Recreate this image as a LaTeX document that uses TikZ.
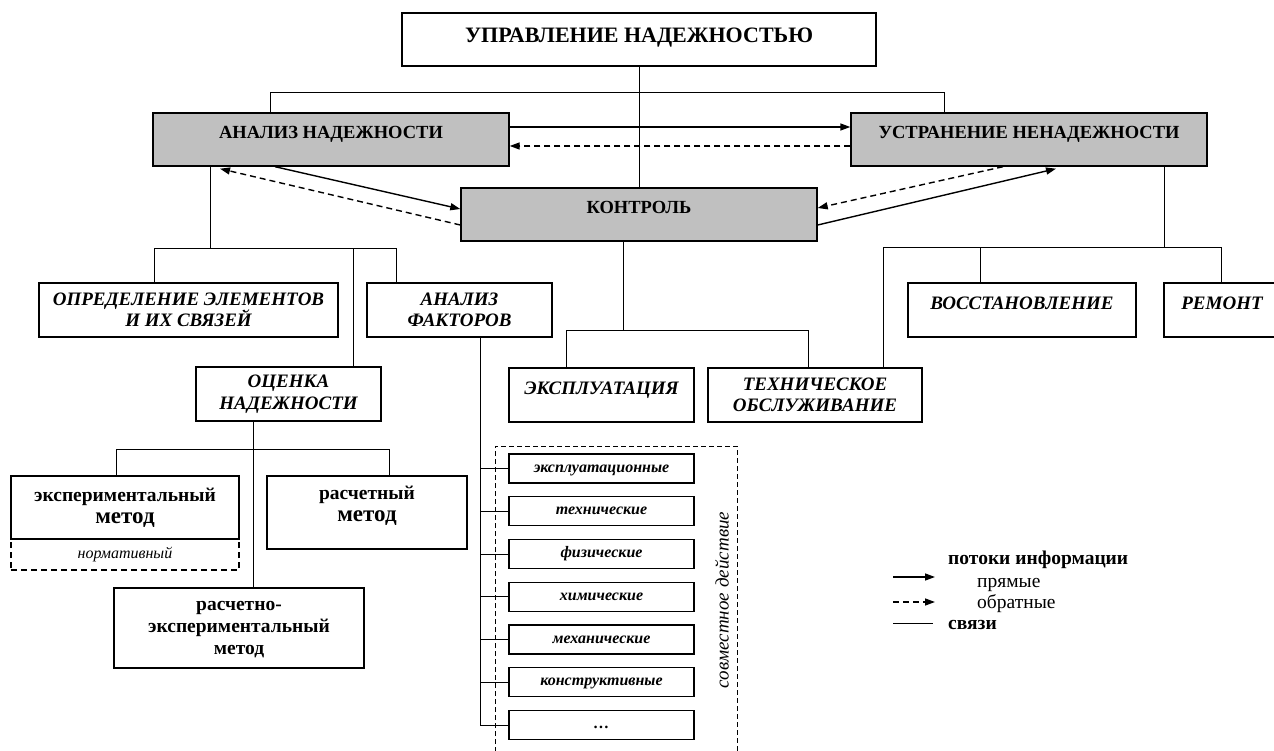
\documentclass[tikz,border=0pt]{standalone}
\usepackage{fontspec}
\setmainfont{Liberation Serif}
\usetikzlibrary{arrows.meta}
\definecolor{boxgray}{RGB}{192,192,192}
\tikzset{
  box/.style={draw, line width=1.4pt, inner sep=2pt},
  topbox/.style={box, line width=2.6pt, minimum width=474pt, minimum height=53pt,
    font=\fontsize{22}{24}\selectfont\bfseries, text height=15pt, text depth=9.4pt},
  graybox/.style={box, fill=boxgray, minimum width=356pt, minimum height=53pt,
    font=\fontsize{18.5}{21}\selectfont\bfseries, text height=13pt, text depth=14pt},
  ibox/.style={box, minimum height=54pt, align=center,
    font=\fontsize{19}{21.5}\selectfont\bfseries\itshape},
  ione/.style={box, minimum height=54pt,
    font=\fontsize{19}{21.5}\selectfont\bfseries\itshape, text height=13pt, text depth=14.4pt},
  mbox/.style={box, align=center, font=\fontsize{19.5}{22}\selectfont\bfseries},
  fbox/.style={box, line width=1.2pt, minimum width=185pt, minimum height=29pt,
    font=\fontsize{16}{17}\selectfont\bfseries\itshape, text height=9pt, text depth=2pt},
  link/.style={line width=1pt},
  fwdflow/.style={line width=1.4pt, -{Triangle[length=10pt,width=7pt]}},
  backflow/.style={fwdflow, dash pattern=on 6pt off 4pt},
  legtext/.style={anchor=base west, inner sep=0pt, font=\fontsize{19.5}{21}\selectfont}
}

\begin{document}
\begin{tikzpicture}[x=1pt,y=-1pt]
\useasboundingbox (0,0) rectangle (1274,751);

\node[topbox] (upr) at (639,39.5) {УПРАВЛЕНИЕ НАДЕЖНОСТЬЮ};
\node[graybox] (anal) at (331,139.5) {АНАЛИЗ НАДЕЖНОСТИ};
\node[graybox] (ustr) at (1029,139.5) {УСТРАНЕНИЕ НЕНАДЕЖНОСТИ};
\node[graybox] (kontr) at (639,214.5) {КОНТРОЛЬ};

\node[ibox, minimum width=299pt] (opred) at (188.5,310) {ОПРЕДЕЛЕНИЕ ЭЛЕМЕНТОВ\\И ИХ СВЯЗЕЙ};
\node[ibox, minimum width=185pt] (fakt) at (459.5,310) {АНАЛИЗ\\ФАКТОРОВ};
\node[ibox, minimum width=185pt] (ocen) at (288.5,394) {ОЦЕНКА\\НАДЕЖНОСТИ};
\node[ione, minimum width=185pt] (expl) at (601.5,395) {ЭКСПЛУАТАЦИЯ};
\node[ibox, minimum width=214pt] (tech) at (815,395) {ТЕХНИЧЕСКОЕ\\ОБСЛУЖИВАНИЕ};
\node[ione, minimum width=228pt] (vosst) at (1022,310) {ВОССТАНОВЛЕНИЕ};
\node[ione, minimum width=116pt] (rem) at (1222,310) {РЕМОНТ};

\node[mbox, minimum width=228pt, minimum height=63pt] (expm) at (125,507.5)
  {экспериментальный\\{\fontsize{23}{24}\selectfont метод}};
\node[box, dash pattern=on 6pt off 4pt, minimum width=228pt, minimum height=31pt,
  font=\fontsize{16}{18}\selectfont\itshape] (norm) at (125,554.5) {нормативный};
\node[mbox, minimum width=200pt, minimum height=73pt, text depth=18pt] (rasch) at (367,512.5)
  {расчетный\\{\fontsize{23}{24}\selectfont метод}};
\node[mbox, minimum width=250pt, minimum height=80pt, text depth=0pt] (rexp) at (239,628)
  {расчетно-\\экспериментальный\\метод};

\coordinate (busT1) at (270,93);
\coordinate (busT2) at (944,93);
\draw[link] (busT1 |- anal.north) -- (busT1) -- (busT2) -- (busT2 |- ustr.north);
\draw[link] (upr) -- (kontr);

\coordinate (busA) at (210,249);
\coordinate (busA1) at (154,249);
\coordinate (busA2) at (353,249);
\coordinate (busA3) at (396,249);
\draw[link] (busA |- anal.south) -- (busA);
\draw[link] (busA1 |- opred.north) -- (busA1) -- (busA3) -- (busA3 |- fakt.north);
\draw[link] (busA2) -- (busA2 |- ocen.north);

\coordinate (busO) at (253,449);
\coordinate (busO1) at (116,449);
\coordinate (busO2) at (389,449);
\draw[link] (busO |- ocen.south) -- (busO |- rexp.north);
\draw[link] (busO1 |- expm.north) -- (busO1) -- (busO2) -- (busO2 |- rasch.north);

\coordinate (busK) at (623,330);
\coordinate (busK1) at (566,330);
\coordinate (busK2) at (808,330);
\draw[link] (busK |- kontr.south) -- (busK);
\draw[link] (busK1 |- expl.north) -- (busK1) -- (busK2) -- (busK2 |- tech.north);

\coordinate (busU) at (1164,248);
\coordinate (busU1) at (883,248);
\coordinate (busU2) at (980,248);
\coordinate (busU3) at (1221,248);
\draw[link] (busU |- ustr.south) -- (busU);
\draw[link] (busU1 |- tech.north) -- (busU1) -- (busU3) -- (busU3 |- rem.north);
\draw[link] (busU2) -- (busU2 |- vosst.north);

\draw[fwdflow] ([yshift=12.5pt]anal.east) -- ([yshift=12.5pt]ustr.west);
\draw[backflow] ([yshift=-6.5pt]ustr.west) -- ([yshift=-6.5pt]anal.east);
\draw[fwdflow] ([xshift=-56pt]anal.south) -- ([yshift=5.5pt]kontr.west);
\draw[backflow] ([yshift=-10.5pt]kontr.west) -- ([xshift=-111pt,yshift=-2pt]anal.south);
\draw[backflow] ([xshift=-26pt]ustr.south) -- ([yshift=6.5pt]kontr.east);
\draw[fwdflow] ([yshift=-10.5pt]kontr.east) -- ([xshift=27pt,yshift=-2pt]ustr.south);

\draw[dash pattern=on 5pt off 3pt, line width=1pt] (495,760) -- (495,446) -- (737,446) -- (737,760);
\node[rotate=90, font=\fontsize{19}{20}\selectfont\itshape] (sovm) at (722,600) {совместное действие};

\coordinate (fline) at (480,337);
\foreach \f [count=\i from 0] in {эксплуатационные,технические,физические,химические,механические,конструктивные,\dots}{
  \node[fbox] (f\i) at (601.5,{468.5+42.75*\i}) {\f};
  \draw[link] (f\i.west) -- (f\i.west -| fline);
}
\draw[link] (fline |- fakt.south) -- (fline |- f6.west);

\node[legtext, font=\fontsize{19.5}{21}\selectfont\bfseries] (lgflow) at (948,564) {потоки информации};
\node[legtext] (lgdir) at (977,587) {прямые};
\node[legtext] (lgrev) at (977,608) {обратные};
\node[legtext, font=\fontsize{19.5}{21}\selectfont\bfseries] (lglink) at (948,629) {связи};
\coordinate (lgA1) at (893,577);
\coordinate (lgA2) at (935,577);
\coordinate (lgB1) at (893,602);
\coordinate (lgB2) at (935,602);
\coordinate (lgC1) at (893,623);
\coordinate (lgC2) at (933,623);
\draw[fwdflow] (lgA1) -- (lgA2);
\draw[backflow] (lgB1) -- (lgB2);
\draw[link] (lgC1) -- (lgC2);
\end{tikzpicture}
\end{document}
